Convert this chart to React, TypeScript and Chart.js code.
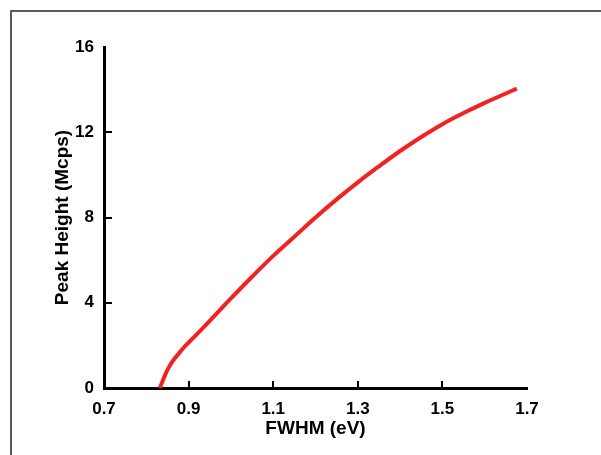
import React, { useEffect, useRef } from "react";
import { Chart, registerables } from "chart.js";

Chart.register(...registerables);

const fwhm = [0.832, 0.84, 0.85, 0.862, 0.876, 0.892, 0.911, 0.95, 1.0, 1.05, 1.1, 1.15, 1.2, 1.25, 1.3, 1.35, 1.4, 1.45, 1.5, 1.55, 1.6, 1.65, 1.676];
const peakHeight = [0, 0.4, 0.85, 1.25, 1.6, 1.97, 2.35, 3.15, 4.2, 5.22, 6.2, 7.1, 8.0, 8.85, 9.65, 10.4, 11.12, 11.78, 12.38, 12.9, 13.38, 13.82, 14.05];
const xTicks = [0.7, 0.9, 1.1, 1.3, 1.5, 1.7];
const yTicks = [0, 4, 8, 12, 16];
const xTitle = "FWHM (eV)";
const yTitle = "Peak Height (Mcps)";

const FONT = "'Liberation Sans', Arial, Helvetica, sans-serif";

const framePlugin = {
  id: "frame",
  beforeDraw(chart: any) {
    const { ctx } = chart;
    ctx.save();
    ctx.fillStyle = "#ffffff";
    ctx.fillRect(0, 0, chart.width, chart.height);
    ctx.fillStyle = "#5a5a5a";
    ctx.fillRect(10, 10, 2, chart.height);
    ctx.fillRect(10, 10, chart.width, 2);
    ctx.restore();
  },
};

const innerTicksPlugin = {
  id: "innerTicks",
  afterDraw(chart: any) {
    const { ctx, chartArea, scales } = chart;
    ctx.save();
    ctx.fillStyle = "#000000";
    xTicks.slice(1, -1).forEach((v) => {
      const px = Math.round(scales.x.getPixelForValue(v));
      ctx.fillRect(px - 1, chartArea.bottom - 7, 2, 7);
    });
    yTicks.slice(1, -1).forEach((v) => {
      const py = Math.round(scales.y.getPixelForValue(v));
      ctx.fillRect(chartArea.left, py - 1, 8, 2);
    });
    ctx.restore();
  },
};

export default function App() {
  const ref = useRef<HTMLCanvasElement | null>(null);

  useEffect(() => {
    if (!ref.current) return;
    const chart = new Chart(ref.current, {
      type: "line",
      data: {
        datasets: [
          {
            data: fwhm.map((x, i) => ({ x, y: peakHeight[i] })),
            borderColor: "#f22222",
            borderWidth: 4,
            pointRadius: 0,
            tension: 0.4,
            fill: false,
            clip: false as any,
          },
        ],
      },
      options: {
        responsive: false,
        animation: false,
        devicePixelRatio: 1,
        layout: { padding: { left: 0, top: 47, right: 74, bottom: 0 } },
        plugins: {
          legend: { display: false },
          tooltip: { enabled: false },
        },
        scales: {
          x: {
            type: "linear",
            min: 0.7,
            max: 1.7,
            afterBuildTicks: (s: any) => {
              s.ticks = xTicks.map((v) => ({ value: v }));
            },
            afterFit: (s: any) => {
              s.height = 67;
            },
            grid: { display: false, drawTicks: false },
            border: { display: true, color: "#000", width: 3 },
            ticks: {
              padding: 11,
              color: "#000",
              font: { family: FONT, size: 17, weight: "bold" },
              callback: (v: any) => Number(v).toFixed(1),
              maxRotation: 0,
            },
            title: {
              display: true,
              text: xTitle,
              color: "#000",
              font: { family: FONT, size: 19, weight: "bold" },
              padding: { top: 0, bottom: 15 },
            },
          },
          y: {
            type: "linear",
            min: 0,
            max: 16,
            afterBuildTicks: (s: any) => {
              s.ticks = yTicks.map((v) => ({ value: v }));
            },
            afterFit: (s: any) => {
              s.width = 104;
            },
            grid: { display: false, drawTicks: false },
            border: { display: true, color: "#000", width: 3 },
            ticks: {
              padding: 10,
              color: "#000",
              font: { family: FONT, size: 17, weight: "bold" },
              callback: (v: any) => String(v),
            },
            title: {
              display: true,
              text: yTitle,
              color: "#000",
              font: { family: FONT, size: 19, weight: "bold" },
              padding: { top: 51, bottom: 0 },
            },
          },
        },
      },
      plugins: [framePlugin, innerTicksPlugin],
    });
    return () => chart.destroy();
  }, []);

  return (
    <canvas
      ref={ref}
      width={601}
      height={455}
      style={{ position: "fixed", left: 0, top: 0, width: 601, height: 455 }}
    />
  );
}
